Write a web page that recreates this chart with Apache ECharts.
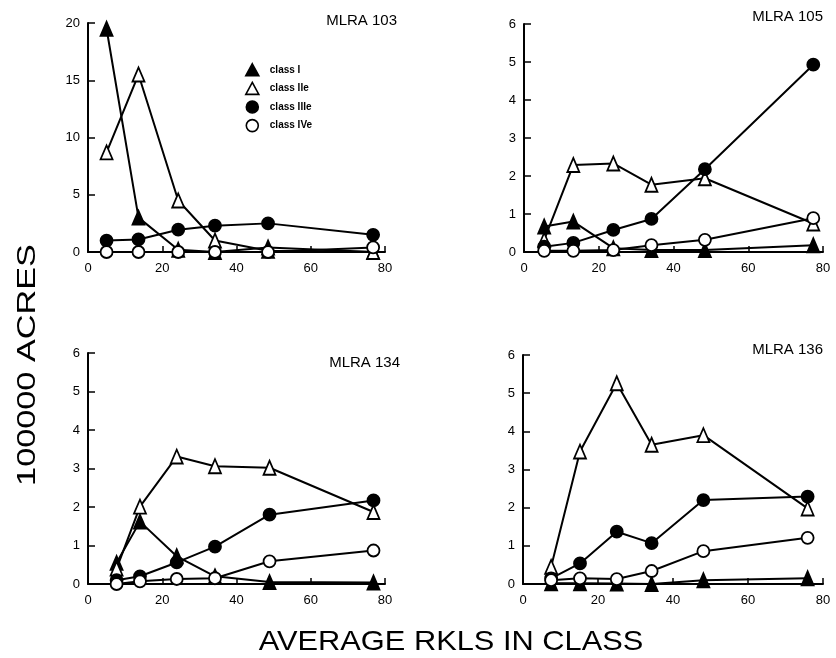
<!DOCTYPE html>
<html>
<head>
<meta charset="utf-8">
<title>RKLS classes by MLRA</title>
<script src="https://cdn.jsdelivr.net/npm/echarts@6/dist/echarts.min.js"></script>
<style>
  html, body { margin: 0; padding: 0; background: #fff; }
  #chart { width: 836px; height: 658px; }
</style>
</head>
<body>
<div id="chart"></div>
<script>
// Panel titles and class names
const panelTitles = ['MLRA 103', 'MLRA 105', 'MLRA 134', 'MLRA 136'];
const classNames = ['class I', 'class IIe', 'class IIIe', 'class IVe'];

// Average RKLS of each class interval (x), per MLRA
const rkls103 = [5.0, 13.6, 24.3, 34.2, 48.5, 76.8];
const rkls105 = [5.4, 13.2, 23.9, 34.1, 48.4, 77.4];
const rkls134 = [7.7, 14.0, 23.9, 34.2, 48.9, 76.9];
const rkls136 = [7.5, 15.2, 25.0, 34.3, 48.1, 75.9];

// Acreage (100000 acres) per land capability class
const classI_103   = [19.5, 3.0, 0.2, 0, 0.4, 0];
const classIIe_103 = [8.7, 15.5, 4.5, 1.0, 0.1, 0];
const classIIIe_103 = [1.0, 1.1, 1.95, 2.3, 2.5, 1.5];
const classIVe_103 = [0, 0, 0, 0, 0, 0.4];

const classI_105   = [0.67, 0.8, 0.1, 0.05, 0.05, 0.18];
const classIIe_105 = [0.32, 2.29, 2.33, 1.77, 1.94, 0.75];
const classIIIe_105 = [0.14, 0.24, 0.58, 0.87, 2.18, 4.93];
const classIVe_105 = [0.03, 0.03, 0.05, 0.18, 0.32, 0.89];

const classI_134   = [0.55, 1.62, 0.72, 0.2, 0.05, 0.04];
const classIIe_134 = [0.4, 2.01, 3.31, 3.06, 3.02, 1.87];
const classIIIe_134 = [0.1, 0.2, 0.56, 0.97, 1.8, 2.17];
const classIVe_134 = [0, 0.07, 0.13, 0.15, 0.59, 0.87];

const classI_136   = [0.02, 0.02, 0.01, 0, 0.1, 0.15];
const classIIe_136 = [0.45, 3.47, 5.26, 3.65, 3.9, 1.98];
const classIIIe_136 = [0.15, 0.54, 1.37, 1.07, 2.2, 2.29];
const classIVe_136 = [0.1, 0.15, 0.13, 0.34, 0.86, 1.21];

// Axis ranges
const xMax = 80, xStep = 20;
const yMax103 = 20, yStep103 = 5;
const yMaxOther = 6, yStepOther = 1;

const panelX = [rkls103, rkls105, rkls134, rkls136];
const panelY = [
  [classI_103, classIIe_103, classIIIe_103, classIVe_103],
  [classI_105, classIIe_105, classIIIe_105, classIVe_105],
  [classI_134, classIIe_134, classIIIe_134, classIVe_134],
  [classI_136, classIIe_136, classIIIe_136, classIVe_136]
];

const FONT = '"Liberation Sans", Arial, Helvetica, sans-serif';
const INK = '#000';

// Marker look per class: filled / open triangle, filled / open circle
const markerStyle = [
  { symbol: 'triangle', size: [12, 14], fill: INK },
  { symbol: 'triangle', size: [12, 14], fill: '#fff' },
  { symbol: 'circle', size: 12, fill: INK },
  { symbol: 'circle', size: 12, fill: '#fff' }
];

const grids = [
  { left: 88, top: 23, width: 297, height: 229 },
  { left: 524, top: 24, width: 299, height: 228 },
  { left: 88, top: 353, width: 297, height: 231 },
  { left: 523, top: 355, width: 300, height: 229 }
];

const xAxes = grids.map((g, i) => ({
  type: 'value', gridIndex: i, min: 0, max: xMax, interval: xStep,
  axisLine: { show: true, lineStyle: { color: INK, width: 2 } },
  axisTick: { show: true, inside: true, length: 6, lineStyle: { color: INK, width: 1.5 } },
  axisLabel: { color: INK, fontFamily: FONT, fontSize: 13, margin: 10 },
  splitLine: { show: false }
}));

const yAxes = grids.map((g, i) => ({
  type: 'value', gridIndex: i, min: 0,
  max: i === 0 ? yMax103 : yMaxOther,
  interval: i === 0 ? yStep103 : yStepOther,
  axisLine: { show: true, lineStyle: { color: INK, width: 2 } },
  axisTick: { show: true, inside: true, length: 7, lineStyle: { color: INK, width: 1.5 } },
  axisLabel: { color: INK, fontFamily: FONT, fontSize: 13, margin: 8 },
  splitLine: { show: false }
}));

const series = [];
panelY.forEach((classes, p) => {
  classes.forEach((vals, c) => {
    const m = markerStyle[c];
    series.push({
      type: 'line',
      name: classNames[c],
      xAxisIndex: p, yAxisIndex: p,
      data: vals.map((v, k) => [panelX[p][k], v]),
      symbol: m.symbol,
      symbolSize: m.size,
      showAllSymbol: true,
      clip: false,
      lineStyle: { color: INK, width: 2 },
      itemStyle: { color: m.fill, borderColor: INK, borderWidth: 1.8 },
      emphasis: { disabled: true },
      z: 2 + c,
      animation: false
    });
  });
});

const titles = [
  { text: panelTitles[0], right: 439, top: 13 },
  { text: panelTitles[1], right: 13, top: 9 },
  { text: panelTitles[2], right: 436, top: 355 },
  { text: panelTitles[3], right: 13, top: 342 }
].map(t => Object.assign(t, {
  padding: 0,
  textStyle: { color: INK, fontFamily: FONT, fontSize: 15, fontWeight: 'normal' }
}));

const chart = echarts.init(document.getElementById('chart'), null, { renderer: 'canvas' });
chart.setOption({
  backgroundColor: '#fff',
  animation: false,
  title: titles,
  legend: {
    left: 240, top: 58, orient: 'vertical',
    itemWidth: 13, itemHeight: 12, itemGap: 5,
    selectedMode: false,
    textStyle: { color: INK, fontFamily: FONT, fontSize: 10, fontWeight: 'bold', padding: [0, 0, 0, 6] },
    data: classNames.map((n, c) => ({
      name: n,
      icon: markerStyle[c].symbol,
      itemStyle: { color: markerStyle[c].fill, borderColor: INK, borderWidth: 1.6 }
    }))
  },
  grid: grids,
  xAxis: xAxes,
  yAxis: yAxes,
  series: series,
  graphic: [
    {
      type: 'text', x: 28, y: 365, rotation: Math.PI / 2, scaleX: 1.37,
      style: { text: '100000 ACRES', font: '25px ' + FONT, fill: INK, textAlign: 'center', textVerticalAlign: 'middle' }
    },
    {
      type: 'text', x: 451, y: 642, scaleX: 1.1,
      style: { text: 'AVERAGE RKLS IN CLASS', font: '28px ' + FONT, fill: INK, textAlign: 'center', textVerticalAlign: 'middle' }
    }
  ]
});
</script>
</body>
</html>
